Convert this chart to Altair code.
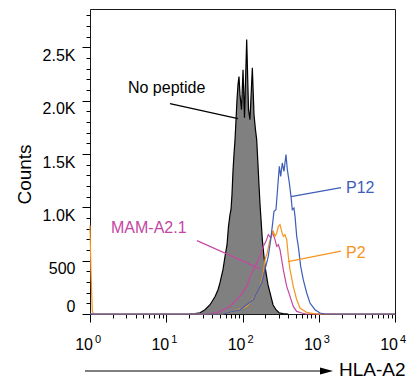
import altair as alt
import pandas as pd
import numpy as np

FONT = "Liberation Sans"

# ---- data: x in log10(HLA-A2 fluorescence), y = counts ----
np_log = [1.30, 1.377, 1.443, 1.508, 1.574, 1.639, 1.679, 1.705, 1.744, 1.770, 1.797, 1.816, 1.836, 1.849,
          1.862, 1.875, 1.888, 1.902, 1.915, 1.928, 1.941, 1.954, 1.967, 1.987, 2.007, 2.026, 2.055, 2.079,
          2.098, 2.129, 2.151, 2.170, 2.186, 2.203, 2.216, 2.230, 2.243, 2.260, 2.282, 2.302, 2.334, 2.367,
          2.400, 2.439, 2.479, 2.531, 2.6]
np_cnt = [0, 3, 12, 40, 87, 162, 228, 294, 416, 537, 650, 819, 931, 978,
          1119, 1335, 1494, 1635, 1822, 2010, 2151, 2226, 2057, 1916, 2291, 1841, 2573, 1916,
          1822, 2310, 1869, 1729, 1635, 1401, 1213, 1025, 885, 697, 537, 416, 275, 181,
          87, 40, 12, 3, 0]

mam_log = [0, 1.508, 1.662, 1.836, 1.967, 2.055, 2.121, 2.164, 2.230, 2.273, 2.308, 2.338, 2.370,
           2.396, 2.426, 2.449, 2.470, 2.492, 2.535, 2.580, 2.623, 2.666, 2.711, 2.777, 2.833, 4]
mam_cnt = [0, 0, 12, 71, 165, 259, 387, 446, 540, 634, 681, 744, 716,
           763, 697, 634, 650, 603, 416, 259, 165, 71, 24, 9, 0, 0]

p2_log = [0, 0.012, 0.03, 0.045, 1.731, 1.836, 2.055, 2.164, 2.230, 2.273, 2.295, 2.325, 2.352, 2.383,
          2.404, 2.426, 2.449, 2.470, 2.492, 2.514, 2.535, 2.557, 2.580, 2.601, 2.623, 2.666, 2.711,
          2.754, 2.842, 2.928, 2.990, 4]
p2_cnt = [830, 420, 30, 0, 0, 12, 71, 165, 259, 385, 509, 575, 669, 744,
          775, 728, 760, 822, 838, 775, 728, 744, 697, 540, 416, 259, 134,
          56, 15, 3, 0, 0]

p12_log = [0, 1.748, 1.967, 2.142, 2.252, 2.295, 2.338, 2.370, 2.396, 2.413, 2.439, 2.456, 2.483,
           2.501, 2.522, 2.544, 2.570, 2.588, 2.614, 2.636, 2.653, 2.675, 2.689, 2.711, 2.732, 2.763,
           2.797, 2.842, 2.885, 2.951, 3.016, 3.082, 4]
p12_cnt = [0, 0, 40, 134, 291, 416, 540, 697, 854, 962, 978, 1135, 1384,
           1291, 1416, 1338, 1494, 1354, 1229, 1103, 978, 994, 915, 728, 634, 446,
           322, 197, 103, 40, 9, 0, 0]

# annotations
ann_text = ["No peptide", "MAM-A2.1", "P12", "P2"]
ann_x = [0.498, 0.275, 3.357, 3.357]
ann_y = [2123, 805, 1185, 575]
lead_x = [1.049, 1.403, 2.636, 2.597]
lead_y = [1973, 688, 1100, 491]
lead_x2 = [1.941, 2.230, 3.292, 3.292]
lead_y2 = [1832, 425, 1185, 589]

BLUE = "#3d5db8"
ORANGE = "#f7941d"
MAG = "#c446a2"
ann_color = ["black", MAG, BLUE, ORANGE]

decades = [0, 1, 2, 3, 4]
exps = ["0", "1", "2", "3", "4"]
y_major = [0, 500, 1000, 1500, 2000, 2500]
y_minor = list(range(0, 2900, 100))
x_minor = [float(d + np.log10(k)) for d in range(4) for k in range(2, 10)]

YMAX = 2860
xsc = alt.Scale(domain=[0, 4], nice=False, zero=False)
ysc = alt.Scale(domain=[0, YMAX], nice=False, zero=False)

df_np = pd.DataFrame({"log": np_log, "count": np_cnt})
df_mam = pd.DataFrame({"log": mam_log, "count": mam_cnt})
df_p2 = pd.DataFrame({"log": p2_log, "count": p2_cnt})
df_p12 = pd.DataFrame({"log": p12_log, "count": p12_cnt})
df_ann = pd.DataFrame({"x": ann_x, "y": ann_y, "t": ann_text, "c": ann_color,
                       "lx": lead_x, "ly": lead_y, "lx2": lead_x2, "ly2": lead_y2})
df_dec = pd.DataFrame({"d": decades, "e": exps})

label_base = {"condition": {"test": "datum.value == 0", "value": "bottom"}, "value": "top"}
FRAME = "#1a1a1a"

gray_area = alt.Chart(df_np).mark_area(color="#808080").encode(
    x=alt.X("log:Q", scale=xsc, axis=alt.Axis(values=decades, labels=False, tickSize=8, orient="bottom",
                                              title=None, domainColor=FRAME, tickColor="black",
                                              tickWidth=1, grid=False, zindex=0)),
    y=alt.Y("count:Q", scale=ysc, axis=alt.Axis(
        values=y_major, tickSize=8, labelPadding=7, labelFontSize=16, labelFont=FONT,
        labelColor="black", labelBaseline=label_base,
        labelExpr="datum.value == 0 ? '0' : datum.value < 1000 ? '500' : format(datum.value/1000, '.1f') + 'K'",
        title="Counts", titleFontSize=19, titleFont=FONT, titleFontWeight="normal", titleColor="black",
        titleX=-66, titleY=165, titleAlign="center", titleBaseline="middle", titleAngle=270,
        orient="left", domainColor=FRAME, tickColor="black", tickWidth=1, grid=False, zindex=0)),
)

gray_line = alt.Chart(df_np).mark_line(color="black", strokeWidth=1.2).encode(
    x=alt.X("log:Q", scale=xsc, axis=alt.Axis(values=x_minor, labels=False, tickSize=4, domain=False,
                                              orient="bottom", title=None, tickColor="black", grid=False,
                                              zindex=0)),
    y=alt.Y("count:Q", scale=ysc, axis=alt.Axis(values=y_minor, labels=False, tickSize=4, domain=False,
                                                orient="left", title=None, tickColor="black", grid=False,
                                                zindex=0)),
)


def series_line(df, color, xaxis=None, yaxis=None):
    return alt.Chart(df).mark_line(color=color, strokeWidth=1.2).encode(
        x=alt.X("log:Q", scale=xsc, axis=xaxis),
        y=alt.Y("count:Q", scale=ysc, axis=yaxis),
    )


frame_top = alt.Axis(orient="top", ticks=False, labels=False, title=None, domainColor=FRAME, grid=False,
                     zindex=0)
frame_right = alt.Axis(orient="right", ticks=False, labels=False, title=None, domainColor=FRAME, grid=False,
                       zindex=0)

mam_line = series_line(df_mam, MAG, xaxis=frame_top)
p2_line = series_line(df_p2, ORANGE, yaxis=frame_right)
p12_line = series_line(df_p12, BLUE)

leaders = alt.Chart(df_ann).mark_rule(strokeWidth=1.2).encode(
    x=alt.X("lx:Q", scale=xsc, axis=None), y=alt.Y("ly:Q", scale=ysc, axis=None),
    x2="lx2:Q", y2="ly2:Q", color=alt.Color("c:N", scale=None),
)
ann_texts = alt.Chart(df_ann).mark_text(align="left", baseline="middle", fontSize=16, font=FONT).encode(
    x=alt.X("x:Q", scale=xsc, axis=None), y=alt.Y("y:Q", scale=ysc, axis=None),
    text="t:N", color=alt.Color("c:N", scale=None),
)

ten = alt.Chart(df_dec).mark_text(align="right", baseline="alphabetic", fontSize=16, font=FONT,
                                  dx=3, color="black").encode(
    x=alt.X("d:Q", scale=xsc, axis=None), y=alt.value(341), text=alt.value("10"))
sup = alt.Chart(df_dec).mark_text(align="left", baseline="alphabetic", fontSize=11, font=FONT,
                                  dx=5, color="black").encode(
    x=alt.X("d:Q", scale=xsc, axis=None), y=alt.value(334), text="e:N")

one = pd.DataFrame({"a": [0]})
arrow_line = alt.Chart(one).mark_rule(color="black", strokeWidth=1.2).encode(
    x=alt.value(-5), x2=alt.value(237), y=alt.value(362))
arrow_head = alt.Chart(one).mark_point(shape="M -1 -0.55 L 1 0 L -1 0.55 Z", filled=True, color="black",
                                       opacity=1, size=169, strokeWidth=0).encode(
    x=alt.value(236.5), y=alt.value(362))
arrow_text = alt.Chart(one).mark_text(align="left", baseline="middle", fontSize=19, font=FONT,
                                      color="black").encode(
    x=alt.value(249), y=alt.value(361), text=alt.value("HLA-A2"))

chart = alt.layer(
    gray_area, gray_line, mam_line, p2_line, p12_line, leaders, ann_texts,
    ten, sup, arrow_line, arrow_head, arrow_text
).resolve_axis(x="independent", y="independent").properties(
    width=305, height=305,
    autosize=alt.AutoSizeParams(type="none"),
    padding={"left": 90, "top": 9, "right": 12, "bottom": 67},
    background="white",
).configure_view(strokeWidth=0).configure(font=FONT)

chart.save("out.html", embed_options={"renderer": "svg", "actions": False})
